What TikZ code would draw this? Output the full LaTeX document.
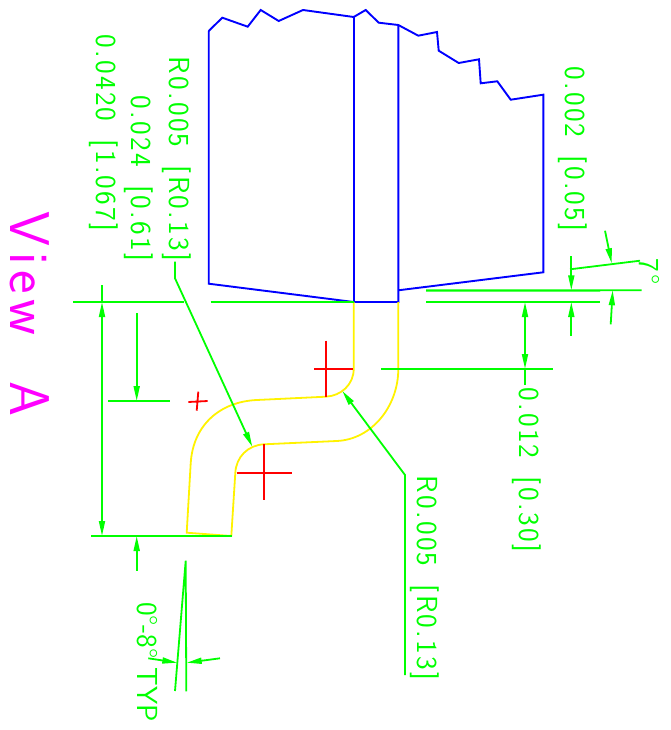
\documentclass[tikz,border=0pt]{standalone}
\usepackage{fontspec}
\usepackage{tikz}
\usetikzlibrary{arrows.meta}
\newfontfamily\dimfont{Latin Modern Sans}[LetterSpace=8, WordSpace=1.6]
\newfontfamily\viewfont{Latin Modern Sans}[LetterSpace=10, WordSpace=2]
\definecolor{dimgreen}{RGB}{0,255,0}
\definecolor{viewmag}{RGB}{255,0,255}
\tikzset{
	dimline/.style={draw=dimgreen, line width=1.8pt},
	dimarrow/.style={dimline, -{Triangle[length=15pt, width=6pt]}},
	dimboth/.style={dimline, {Triangle[length=15pt, width=6pt]}-{Triangle[length=15pt, width=6pt]}},
	outline/.style={draw=blue, line width=1.9pt, line join=miter},
	leadline/.style={draw=yellow, line width=1.8pt},
	centermark/.style={draw=red, line width=1.8pt},
	dimtext/.style={text=dimgreen, rotate=-90, inner sep=0pt, font=\dimfont\fontsize{29}{29}\selectfont},
	viewtext/.style={text=viewmag, rotate=-90, inner sep=0pt, font=\viewfont\fontsize{56}{56}\selectfont},
}
\begin{document}
\begin{tikzpicture}[x=1pt, y=-1pt]
		\useasboundingbox (0,0) rectangle (670,730);
		% part outline
		\draw[outline] (208.7,31) -- (222.3,17.7) -- (247.7,26.7) -- (260.7,10) -- (278.7,21) -- (303,10) -- (353.7,17)
			-- (365.7,10) -- (378.7,22.7) -- (398.3,25) -- (418.3,35.7) -- (437,32) -- (438.7,50.7) -- (458.7,63)
			-- (479,59.3) -- (480.7,83.3) -- (497.3,81.3) -- (510.7,99.7) -- (543.3,94.7) -- (543.3,272.3) -- (398.3,290.3);
		\draw[outline] (208.7,31) -- (208.7,283.7) -- (353.7,302) -- (398.3,302) -- (398.3,25);
		\draw[outline] (353.7,17) -- (353.7,302);
		% lead
		\draw[leadline] (353.7,302) -- (353.7,369) .. controls (353.7,384.5) and (341,396) .. (325.7,396.7)
			-- (256.7,400) .. controls (220,401.7) and (193,425) .. (190.7,463.3) -- (186.7,532.7) -- (231.3,536)
			-- (235.3,473) .. controls (236,457) and (248,445) .. (264,444.3) -- (336.7,441)
			.. controls (372,439.5) and (398.3,406) .. (398.3,369) -- (398.3,302);
		% centers
		\draw[centermark] (188.3,402) -- (207.7,401) (198.3,391.7) -- (196.7,410.7);
		\draw[centermark] (314.3,369) -- (353,369) (325.7,340.7) -- (325.7,396.7);
		\draw[centermark] (236.7,473) -- (292.3,473) (264,444.3) -- (264,500.3);
		% extension lines
		\draw[dimline] (73,302) -- (184,302) (210.7,302) -- (353.7,302) (426,302) -- (600,302);
		\draw[dimline] (426,290.3) -- (641.7,290.3) (426,290.8) -- (600,290.8) (570,269.3) -- (640,260.7);
		\draw[dimline] (381,369) -- (553,369);
		\draw[dimline] (108.3,401) -- (170,401);
		\draw[dimline] (91,536) -- (231.7,536) (108,536.5) -- (203,536.5);
		\draw[dimline] (185.7,560.7) -- (175,691) (185.7,560.7) -- (186.3,691.3);
		% dimension arrows
		\coordinate (toptick) at (102,302);
		\coordinate (bottick) at (102,536);
		\draw[dimboth] (toptick) -- (bottick);
		\draw[dimline] (toptick) -- (102,285);
		\draw[dimarrow] (136.7,313) -- (136.7,401);
		\draw[dimarrow] (136.7,570.7) -- (136.7,536);
		\draw[dimboth] (525,302) -- (525,369);
		\draw[dimline] (525,369) -- (525,385);
		\draw[dimarrow] (571.3,256) -- (571.3,290.3);
		\draw[dimarrow] (571.3,335.7) -- (571.3,302);
		\draw[dimarrow] (605,230.7) -- (611.7,263.3);
		\draw[dimarrow] (610.7,324.3) -- (612.7,290.3);
		\draw[dimarrow] (148.3,658.3) -- (177.3,662.7);
		\draw[dimarrow] (220,658.3) -- (186.7,662.7);
		% labels
		\node[dimtext] (radtop) at (177,159) {R0.005 [R0.13]};
		\node[dimtext] (thick) at (139,178.5) {0.024 [0.61]};
		\node[dimtext] (height) at (104,133) {0.0420 [1.067]};
		\node[dimtext] (gap) at (573,149) {0.002 [0.05]};
		\node[dimtext] (offset) at (527,470) {0.012 [0.30]};
		\node[dimtext] (radbot) at (425,578) {R0.005 [R0.13]};
		\node[dimtext, font=\sffamily\fontsize{29}{29}\selectfont] (typ) at (147,662) {0°-8° TYP};
		\node[dimtext] (tilt) at (649,272) {7°};
		\node[viewtext] (viewa) at (30,314) {View A};
		% leaders
		\draw[dimarrow] (175,261.7) -- (175,278.3) -- (252.3,446.7);
		\draw[dimarrow] (405,675) -- (405,475) -- (342.3,391);
\end{tikzpicture}
\end{document}
